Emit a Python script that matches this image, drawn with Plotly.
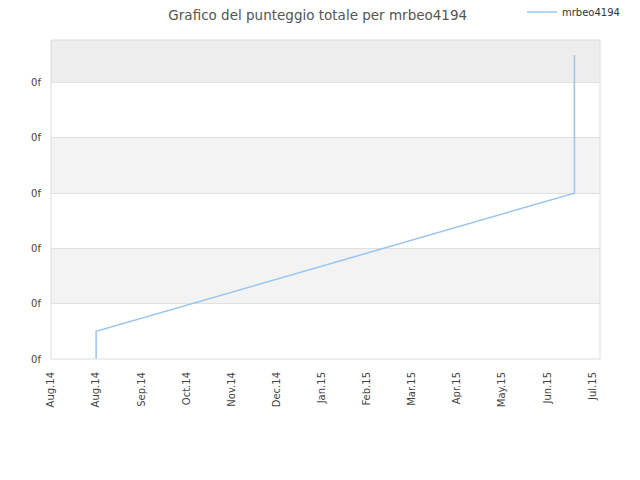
import plotly.graph_objects as go

# punteggio totale nel tempo
dates = ["2014-08-31", "2014-08-31", "2015-07-15", "2015-07-15"]
scores = [0, 0.5, 3.0, 5.5]
player = "mrbeo4194"
y_ticks = [0, 1, 2, 3, 4, 5]
y_labels = ["0f"] * len(y_ticks)

fig = go.Figure()
fig.add_trace(go.Scatter(x=dates, y=scores, mode="lines", name=player,
                         line=dict(color="#97c5f0", width=1.5)))

# bande alternate dello sfondo
shapes = []
for lo, hi, col in [(1, 2, "#f3f3f3"), (3, 4, "#f3f3f3"), (5, 5.77, "#ededed")]:
    shapes.append(dict(type="rect", xref="paper", yref="y", x0=0, x1=1, y0=lo, y1=hi,
                       fillcolor=col, line_width=0, layer="below"))
shapes.append(dict(type="rect", xref="paper", yref="paper", x0=0, x1=1, y0=0, y1=1,
                   line=dict(color="#dcdcdc", width=1), layer="above"))

# la pagina ha 8px di margine sul body, quindi si compensa
fig.update_layout(
    width=640, height=480,
    margin=dict(l=43, r=48, t=32, b=129, autoexpand=False),
    paper_bgcolor="white", plot_bgcolor="white",
    font=dict(family="DejaVu Sans", size=10, color="#444"),
    title=dict(text="Grafico del punteggio totale per mrbeo4194", x=0.484, xanchor="center",
               xref="container", y=0.984, yanchor="middle", font=dict(size=13.5, color="#555")),
    showlegend=True,
    legend=dict(x=1.0455, xanchor="right", y=1.088, yanchor="middle",
                bgcolor="rgba(0,0,0,0)", font=dict(size=10, color="#333")),
    shapes=shapes,
)
fig.update_xaxes(type="date", range=["2014-08-01", "2015-08-01"],
                 tick0="2014-08-01", dtick=30 * 86400000, tickformat="%b.%y",
                 tickangle=-90, showgrid=False, zeroline=False, ticks="",
                 showline=False, ticklabelstandoff=10)
fig.update_yaxes(range=[0, 5.77], tickvals=y_ticks, ticktext=y_labels,
                 showgrid=True, gridcolor="#e0e0e0", zeroline=False, ticks="",
                 showline=False, ticklabelstandoff=9)

fig.write_html("out.html")
